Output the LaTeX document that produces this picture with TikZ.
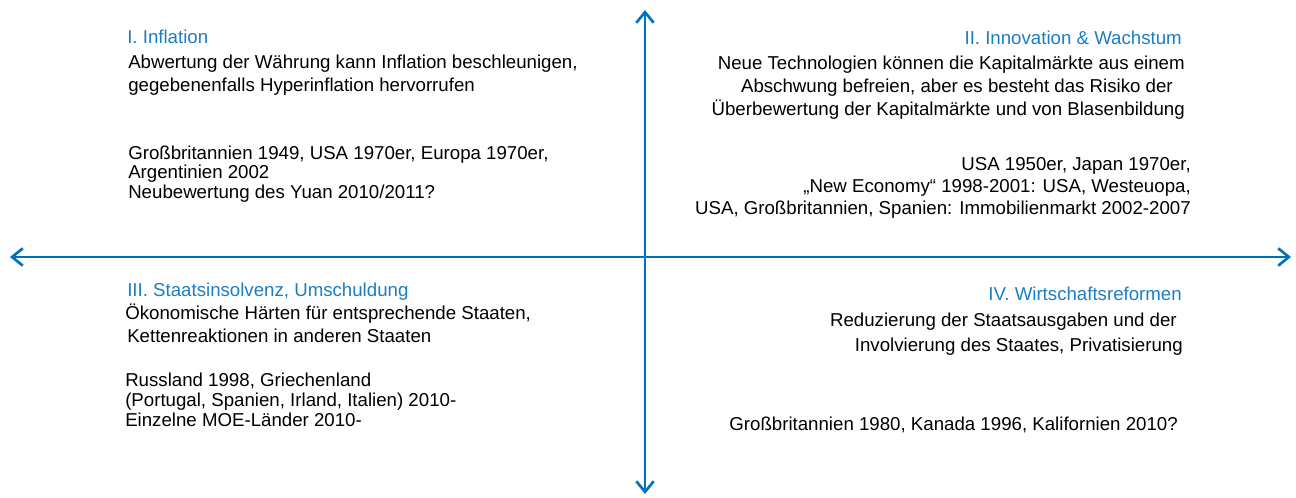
\documentclass[tikz,border=0pt]{standalone}
\usepackage{fontspec}
\setmainfont{Liberation Sans}
\usetikzlibrary{arrows.meta}
\definecolor{axisblue}{RGB}{0,114,188}
\definecolor{headblue}{RGB}{27,125,196}
\tikzset{
	axis/.style = {draw=axisblue, line width=2pt, {Straight Barb[length=8pt, width=13pt]}-{Straight Barb[length=8pt, width=13pt]}},
	txt/.style = {inner sep=0pt, font=\fontsize{14}{17}\selectfont},
	lefttxt/.style = {txt, anchor=base west},
	righttxt/.style = {txt, anchor=base east},
	head/.style = {text=headblue}
}
\begin{document}
\begin{tikzpicture}[x=0.75pt, y=-0.75pt]
		\useasboundingbox (0,0) rectangle (1296,497);
		% axes
		\coordinate (top) at (645,10);
		\coordinate (bottom) at (645,494);
		\coordinate (left) at (10,257);
		\coordinate (right) at (1291,257);
		\draw [axis] (bottom) -- (top);
		\draw [axis] (left) -- (right);
		
		% I. quadrant, top left
		\node [lefttxt, head] (infl) at (127,43) {I. Inflation};
		\node [lefttxt] (infla) at (128,68.5) {Abwertung der Währung kann Inflation beschleunigen,};
		\node [lefttxt] (inflb) at (128,91) {gegebenenfalls Hyperinflation hervorrufen};
		\node [lefttxt] (inflc) at (128,159) {Großbritannien 1949, USA 1970er, Europa 1970er,};
		\node [lefttxt] (infld) at (128,178) {Argentinien 2002};
		\node [lefttxt] (infle) at (128,198.5) {Neubewertung des Yuan 2010/2011?};
		
		% II. quadrant, top right
		\node [righttxt, head] (inno) at (1182,44) {II. Innovation \& Wachstum};
		\node [righttxt] (innoa) at (1185,69) {Neue Technologien können die Kapitalmärkte aus einem};
		\node [righttxt] (innob) at (1173,92) {Abschwung befreien, aber es besteht das Risiko der};
		\node [righttxt] (innoc) at (1185,115) {Überbewertung der Kapitalmärkte und von Blasenbildung};
		\node [righttxt] (innod) at (1191,170) {USA 1950er, Japan 1970er,};
		\node [righttxt] (innoe) at (1191,192) {„New Economy“ 1998-2001: USA, Westeuopa,};
		\node [righttxt] (innof) at (1191,214) {USA, Großbritannien, Spanien: Immobilienmarkt 2002-2007};
		
		% III. quadrant, bottom left
		\node [lefttxt, head] (insol) at (127,296) {III. Staatsinsolvenz, Umschuldung};
		\node [lefttxt] (insola) at (125,319) {Ökonomische Härten für entsprechende Staaten,};
		\node [lefttxt] (insolb) at (127,342.5) {Kettenreaktionen in anderen Staaten};
		\node [lefttxt] (insolc) at (125,386) {Russland 1998, Griechenland};
		\node [lefttxt] (insold) at (125,406) {(Portugal, Spanien, Irland, Italien) 2010-};
		\node [lefttxt] (insole) at (125,426) {Einzelne MOE-Länder 2010-};
		
		% IV. quadrant, bottom right
		\node [righttxt, head] (refo) at (1182,300) {IV. Wirtschaftsreformen};
		\node [righttxt] (refoa) at (1177,326) {Reduzierung der Staatsausgaben und der};
		\node [righttxt] (refob) at (1183,351) {Involvierung des Staates, Privatisierung};
		\node [righttxt] (refoc) at (1178,430) {Großbritannien 1980, Kanada 1996, Kalifornien 2010?};
		
		\end{tikzpicture}
\end{document}
